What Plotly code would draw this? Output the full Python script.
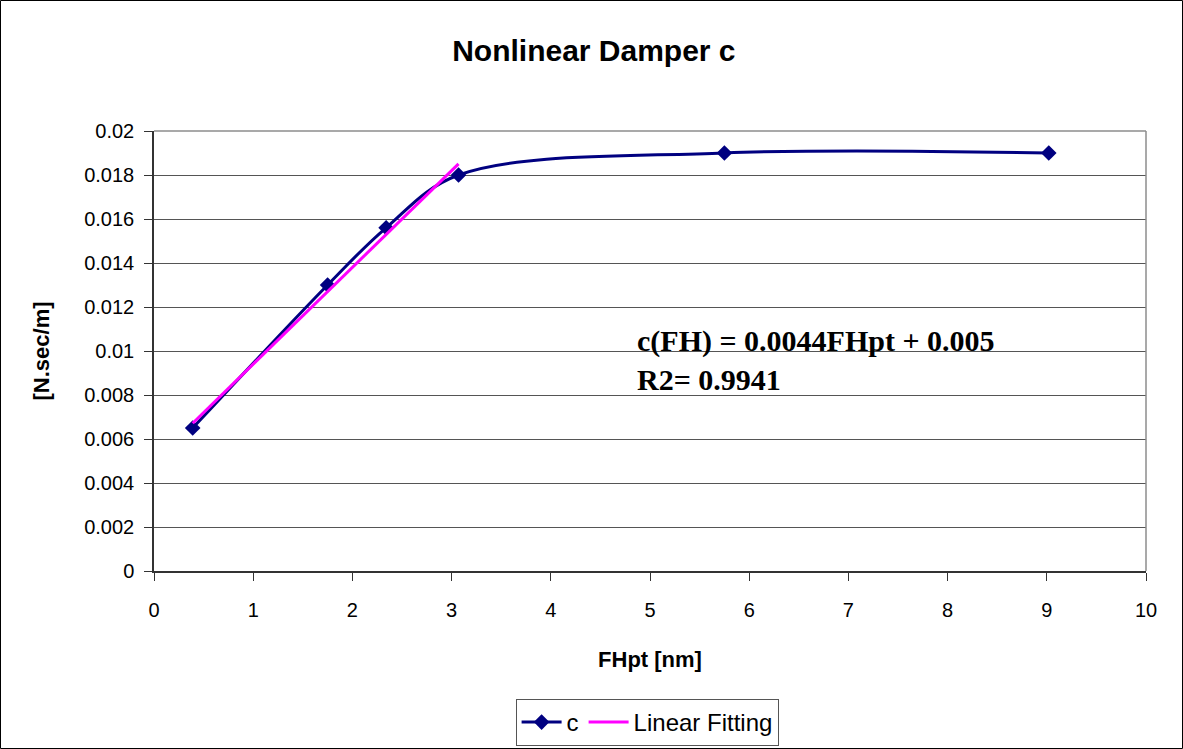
import plotly.graph_objects as go

# Measured damping coefficient vs. FHpt
fh = [0.39, 1.75, 2.34, 3.07, 5.75, 9.02]
c_vals = [0.0065, 0.0130, 0.0156, 0.0180, 0.0190, 0.0190]

# Linear fit over the rising part
fit_slope = 0.0044
fit_intercept = 0.005
fit_r2 = 0.9941
fit_x = [0.39, 3.07]
fit_y = [fit_slope * x + fit_intercept for x in fit_x]

y_ticks = [0, 0.002, 0.004, 0.006, 0.008, 0.01, 0.012, 0.014, 0.016, 0.018, 0.02]
y_tick_text = ["0", "0.002", "0.004", "0.006", "0.008", "0.01", "0.012",
               "0.014", "0.016", "0.018", "0.02"]
x_ticks = list(range(0, 11))

W, H = 1183, 749
ML, MR, MT, MB = 154, 37, 131, 178

SANS = "Liberation Sans, Arial, sans-serif"
SERIF = "Liberation Serif, Times New Roman, serif"

fig = go.Figure()
fig.add_trace(go.Scatter(
    x=fh, y=c_vals, name="c", mode="lines+markers",
    line=dict(color="#000080", width=3, shape="spline", smoothing=1.0),
    marker=dict(symbol="diamond", size=12, color="#000080"),
))
fig.add_trace(go.Scatter(
    x=fit_x, y=fit_y, name="Linear Fitting", mode="lines",
    line=dict(color="#FF00FF", width=3),
))

pw = W - ML - MR
ph = H - MT - MB

shapes = [
    # outer chart frame
    dict(type="rect", xref="paper", yref="paper",
         x0=-(ML - 0.5) / pw, x1=1 + (MR - 0.5) / pw,
         y0=-(MB - 0.5) / ph, y1=1 + (MT - 0.5) / ph,
         line=dict(color="black", width=1), layer="below"),
    # plot-area border (top and right)
    dict(type="line", xref="paper", yref="paper", x0=0, x1=1, y0=1, y1=1,
         line=dict(color="#8c8c8c", width=1.5)),
    dict(type="line", xref="paper", yref="paper", x0=1, x1=1, y0=0, y1=1,
         line=dict(color="#8c8c8c", width=1.5)),
]

eq_text = (f"<b>c(FH) = {fit_slope}FHpt + {fit_intercept}</b><br>"
           f"<b>R2= {fit_r2}</b>")

fig.update_layout(
    width=W, height=H,
    margin=dict(l=ML, r=MR, t=MT, b=MB),
    paper_bgcolor="white", plot_bgcolor="white",
    font=dict(family=SANS, color="black", size=19),
    title=dict(text="<b>Nonlinear Damper c</b>", x=0.502, xref="container",
               xanchor="center", y=1 - 50 / H, yref="container",
               yanchor="middle", font=dict(size=30, family=SANS)),
    xaxis=dict(range=[0, 10], tickvals=x_ticks, ticks="outside", ticklen=8,
               tickcolor="#333", showline=True, linecolor="#333", linewidth=1.5,
               showgrid=False, zeroline=False, ticklabelstandoff=12,
               tickfont=dict(size=20), automargin=False,
               title=dict(text="<b>FHpt [nm]</b>", font=dict(size=22), standoff=32)),
    yaxis=dict(range=[0, 0.02], tickvals=y_ticks, ticktext=y_tick_text,
               ticks="outside", ticklen=8, tickcolor="#333",
               showline=True, linecolor="#333", linewidth=1.5,
               showgrid=True, gridcolor="#555555", gridwidth=1, zeroline=False,
               ticklabelstandoff=6, tickfont=dict(size=20), automargin=False,
               title=dict(text="<b>[N.sec/m]</b>", font=dict(size=22), standoff=28)),
    legend=dict(orientation="h", x=0.547, xanchor="center", xref="container",
                y=1 - 699 / H, yanchor="top", yref="container",
                bordercolor="#555", borderwidth=1,
                font=dict(size=24, family=SANS), itemwidth=40,
                tracegroupgap=0),
    shapes=shapes,
    annotations=[dict(text=eq_text, x=4.85, y=0.0096, xref="x", yref="y",
                      xanchor="left", yanchor="middle", align="left",
                      showarrow=False, font=dict(family=SERIF, size=30, color="black"))],
)

fig.write_html("out.html")
